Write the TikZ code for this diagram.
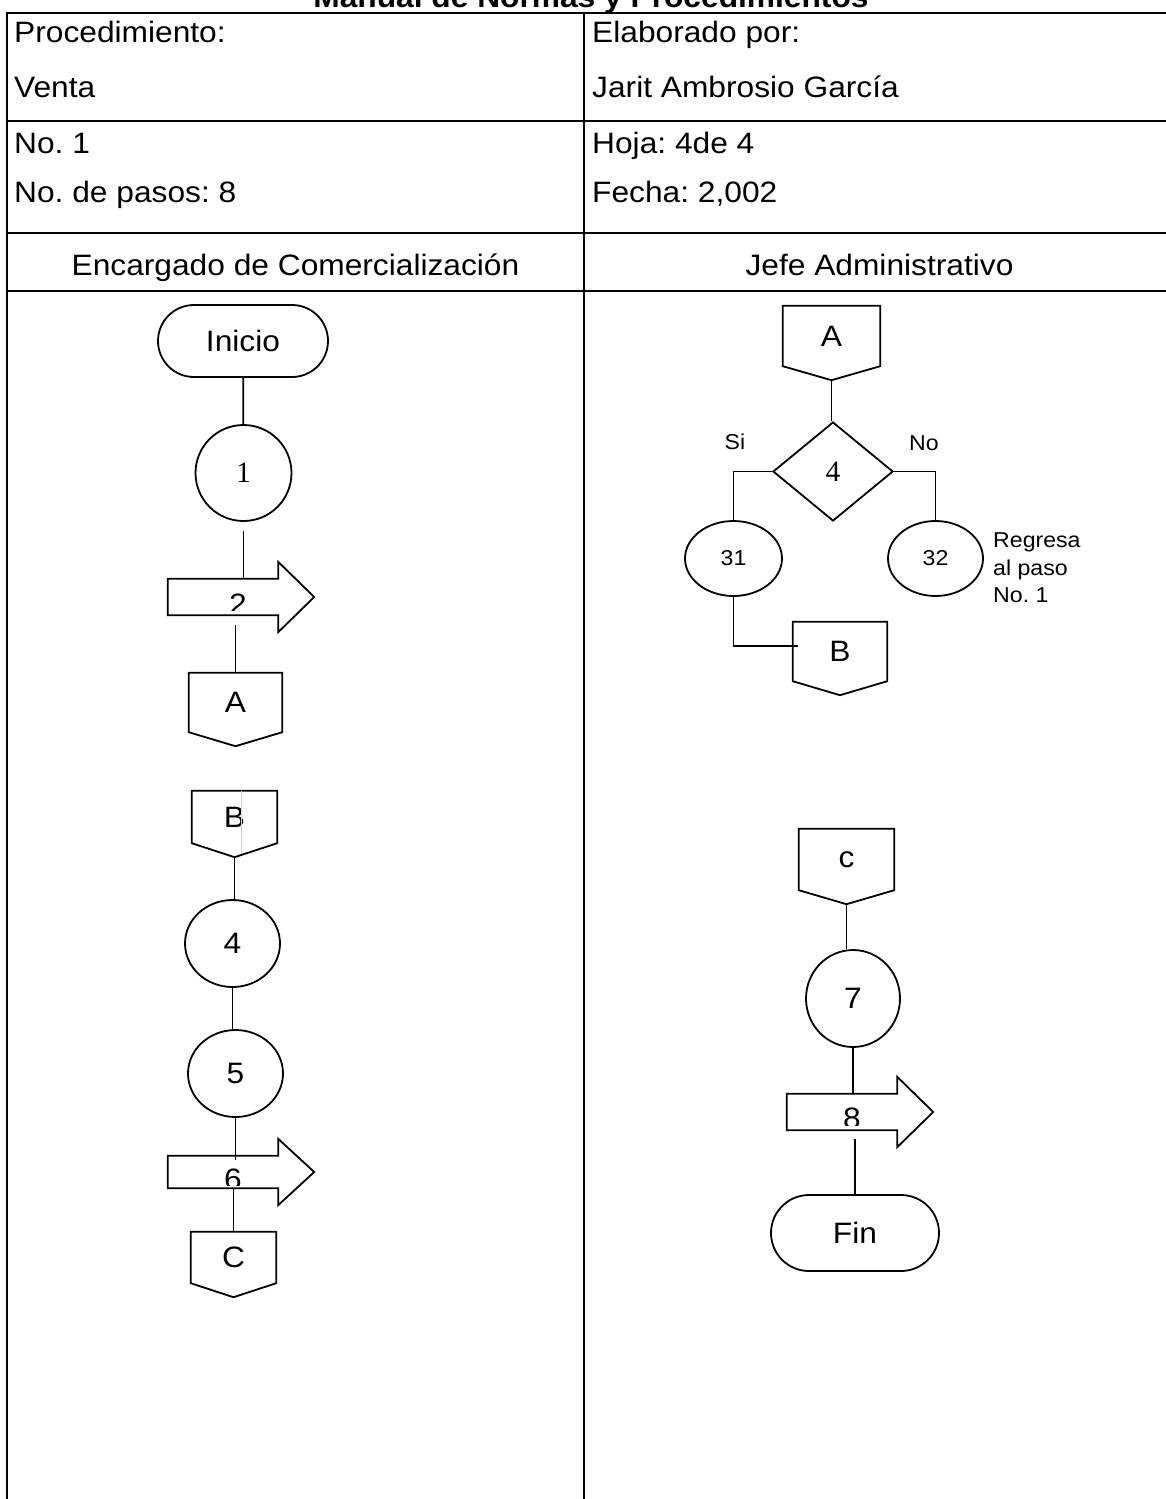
\documentclass[tikz,border=0pt]{standalone}
\usepackage{fontspec}
\setmainfont{Liberation Sans}[FakeStretch=1.075]
\newfontfamily\tnr{Liberation Serif}
\usetikzlibrary{shapes.geometric, shapes.misc}
\frenchspacing

\tikzset{
  tabla/.style={line width=2.7pt, line cap=rect},
  flujo/.style={line width=1.8pt},
  txt/.style={inner sep=0pt, font=\fontsize{29.5}{35}\selectfont},
  chico/.style={inner sep=0pt, font=\fontsize{21.5}{27.5}\selectfont},
  titulo/.style={inner sep=0pt, anchor=base, font=\bfseries\fontsize{29.5}{35}\selectfont},
  terminal/.style={txt, draw, flujo, rounded rectangle, minimum width=170pt, minimum height=72pt},
  paso/.style={txt, draw, flujo, ellipse, minimum width=96pt, minimum height=96pt},
  ovalo/.style={chico, draw, flujo, ellipse, minimum width=97pt, minimum height=75pt},
  decision/.style={txt, draw, flujo, diamond, minimum width=120pt, minimum height=99pt},
  conector/.style={txt, rectangle, minimum width=93pt, minimum height=59pt},
  eje/.style={rectangle, inner sep=0pt, minimum width=110pt, minimum height=36pt},
}
% conector fuera de pagina y flecha de envio
\newcommand{\dibujaconector}[1]{\draw[flujo] (#1.north west) -- (#1.south west) -- ([yshift=-14pt]#1.south) -- (#1.south east) -- (#1.north east) -- cycle;}
\newcommand{\dibujaflecha}[1]{\draw[flujo] (#1.south west) -- (#1.north west) -- (#1.north east) -- ([yshift=17pt]#1.north east) -- ([xshift=36pt]#1.east) -- ([yshift=-17pt]#1.south east) -- (#1.south east) -- cycle;}

\begin{document}
\begin{tikzpicture}[x=1pt, y=-1pt]
    \useasboundingbox (0,0) rectangle (1166,1499);
    \clip (0,0) rectangle (1166,1499);
    % Titulo
    \node[titulo] (tit) at (591,8) {Manual de Normas y Procedimientos};
    % Tabla
    \foreach \y in {13,121,233,291} \draw[tabla] (7,\y) -- (1175,\y);
    \draw[tabla] (7,13) -- (7,1510); \draw[tabla] (584,13) -- (584,1510);
    \node[txt, anchor=base west] (proc) at (14,42) {Procedimiento:};
    \node[txt, anchor=base west] (venta) at (14,97) {Venta};
    \node[txt, anchor=base west] (num) at (14,153) {No. 1};
    \node[txt, anchor=base west] (pasos) at (14,202) {No. de pasos: 8};
    \node[txt, anchor=base west] (elab) at (592,42) {Elaborado por:};
    \node[txt, anchor=base west] (autor) at (592,97) {Jarit Ambrosio García};
    \node[txt, anchor=base west] (hoja) at (592,153) {Hoja: 4de 4};
    \node[txt, anchor=base west] (fecha) at (592,202) {Fecha: 2,002};
    \node[txt, anchor=base] (enc) at (295.5,275) {Encargado de Comercialización};
    \node[txt, anchor=base] (jefe) at (879.5,275) {Jefe Administrativo};

    % Encargado de Comercializacion
    \node[terminal] (ini) at (243,341) {Inicio};
    \node[paso] (c1) at (243.5,473) {\tnr 1};
    \node[eje] (f2) at (223,597) {};
    \dibujaflecha{f2}
    \begin{scope} \clip (f2.north west) rectangle ([yshift=5pt]f2.south east); \node[txt] (t2) at (238,604) {2}; \end{scope}
    \node[conector] (oA) at (235.5,702.5) {A};
    \dibujaconector{oA}
    \node[conector, minimum width=85pt, minimum height=52pt] (oB) at (234.5,817) {B};
    \dibujaconector{oB}
    \draw[gray!35, line width=0.8pt] ([xshift=6.5pt]oB.north) -- ([xshift=6.5pt, yshift=-11pt]oB.south);
    \node[paso, minimum width=95pt, minimum height=87pt] (c4) at (232.5,943.5) {4};
    \node[paso, minimum width=95pt, minimum height=87pt] (c5) at (235.5,1073.5) {5};
    \node[eje, minimum height=32pt] (f6) at (223,1172) {};
    \dibujaflecha{f6}
    \begin{scope} \clip (f6.north west) rectangle ([yshift=3pt]f6.south east); \node[txt] (t6) at (233,1179) {6}; \end{scope}
    \node[conector, minimum width=85pt, minimum height=51pt] (oC) at (233.5,1257.5) {C};
    \dibujaconector{oC}
    \draw[flujo] (ini) -- (c1);
    \draw[flujo, shorten <=9pt] (c1.south) -- (c1.south |- f2.north);
    \draw[flujo, shorten <=10pt] (f2.south -| oA.north) -- (oA.north);
    \draw[flujo, shorten <=14pt] (oB.south) -- (oB.south |- c4.north);
    \draw[flujo] (c4.south) -- (c4.south |- c5.north);
    \draw[flujo, shorten >=-4pt] (c5.south) -- (c5.south |- f6.north);
    \draw[flujo] (f6.south -| oC.north) -- (oC.north);

    % Jefe Administrativo
    \node[conector, minimum width=97pt, minimum height=60pt] (oA2) at (831.5,336) {A};
    \dibujaconector{oA2}
    \node[decision] (d4) at (833,471.5) {\tnr 4};
    \node[ovalo] (e31) at (733.5,558.5) {31};
    \node[ovalo, minimum width=95pt] (e32) at (935.5,558.5) {32};
    \node[chico, anchor=base] (si) at (735,449) {Si};
    \node[chico, anchor=base] (no) at (924,450) {No};
    \node[chico, anchor=north west, align=left] (regresa) at (993,533) {Regresa\\al paso\\No. 1};
    \node[conector, minimum width=94pt, minimum height=59pt] (oB2) at (840,651.5) {B};
    \dibujaconector{oB2}
    \node[conector, minimum width=95pt, minimum height=61pt] (oc) at (846.5,859.5) {c};
    \dibujaconector{oc}
    \node[paso, minimum width=94pt, minimum height=97pt] (c7) at (853,998.5) {7};
    \node[eje] (f8) at (842,1112) {};
    \dibujaflecha{f8}
    \begin{scope} \clip (f8.north west) rectangle ([yshift=5pt]f8.south east); \node[txt] (t8) at (852,1118) {8}; \end{scope}
    \node[terminal, minimum width=168pt, minimum height=76pt] (fin) at (855,1233) {Fin};
    \draw[flujo, shorten <=15pt] (oA2.south) -- (oA2.south |- d4.north);
    \draw[flujo] (d4.west) -| (e31.north);
    \draw[flujo] (d4.east) -| (e32.north);
    \draw[flujo] (e31.south) |- ([xshift=5pt, yshift=5.5pt]oB2.west);
    \draw[flujo, shorten <=14pt] (oc.south) -- (oc.south |- c7.north);
    \draw[flujo] (c7.south) -- (c7.south |- f8.north);
    \draw[flujo, shorten <=9pt] (f8.south -| fin.north) -- (fin.north);
\end{tikzpicture}
\end{document}
